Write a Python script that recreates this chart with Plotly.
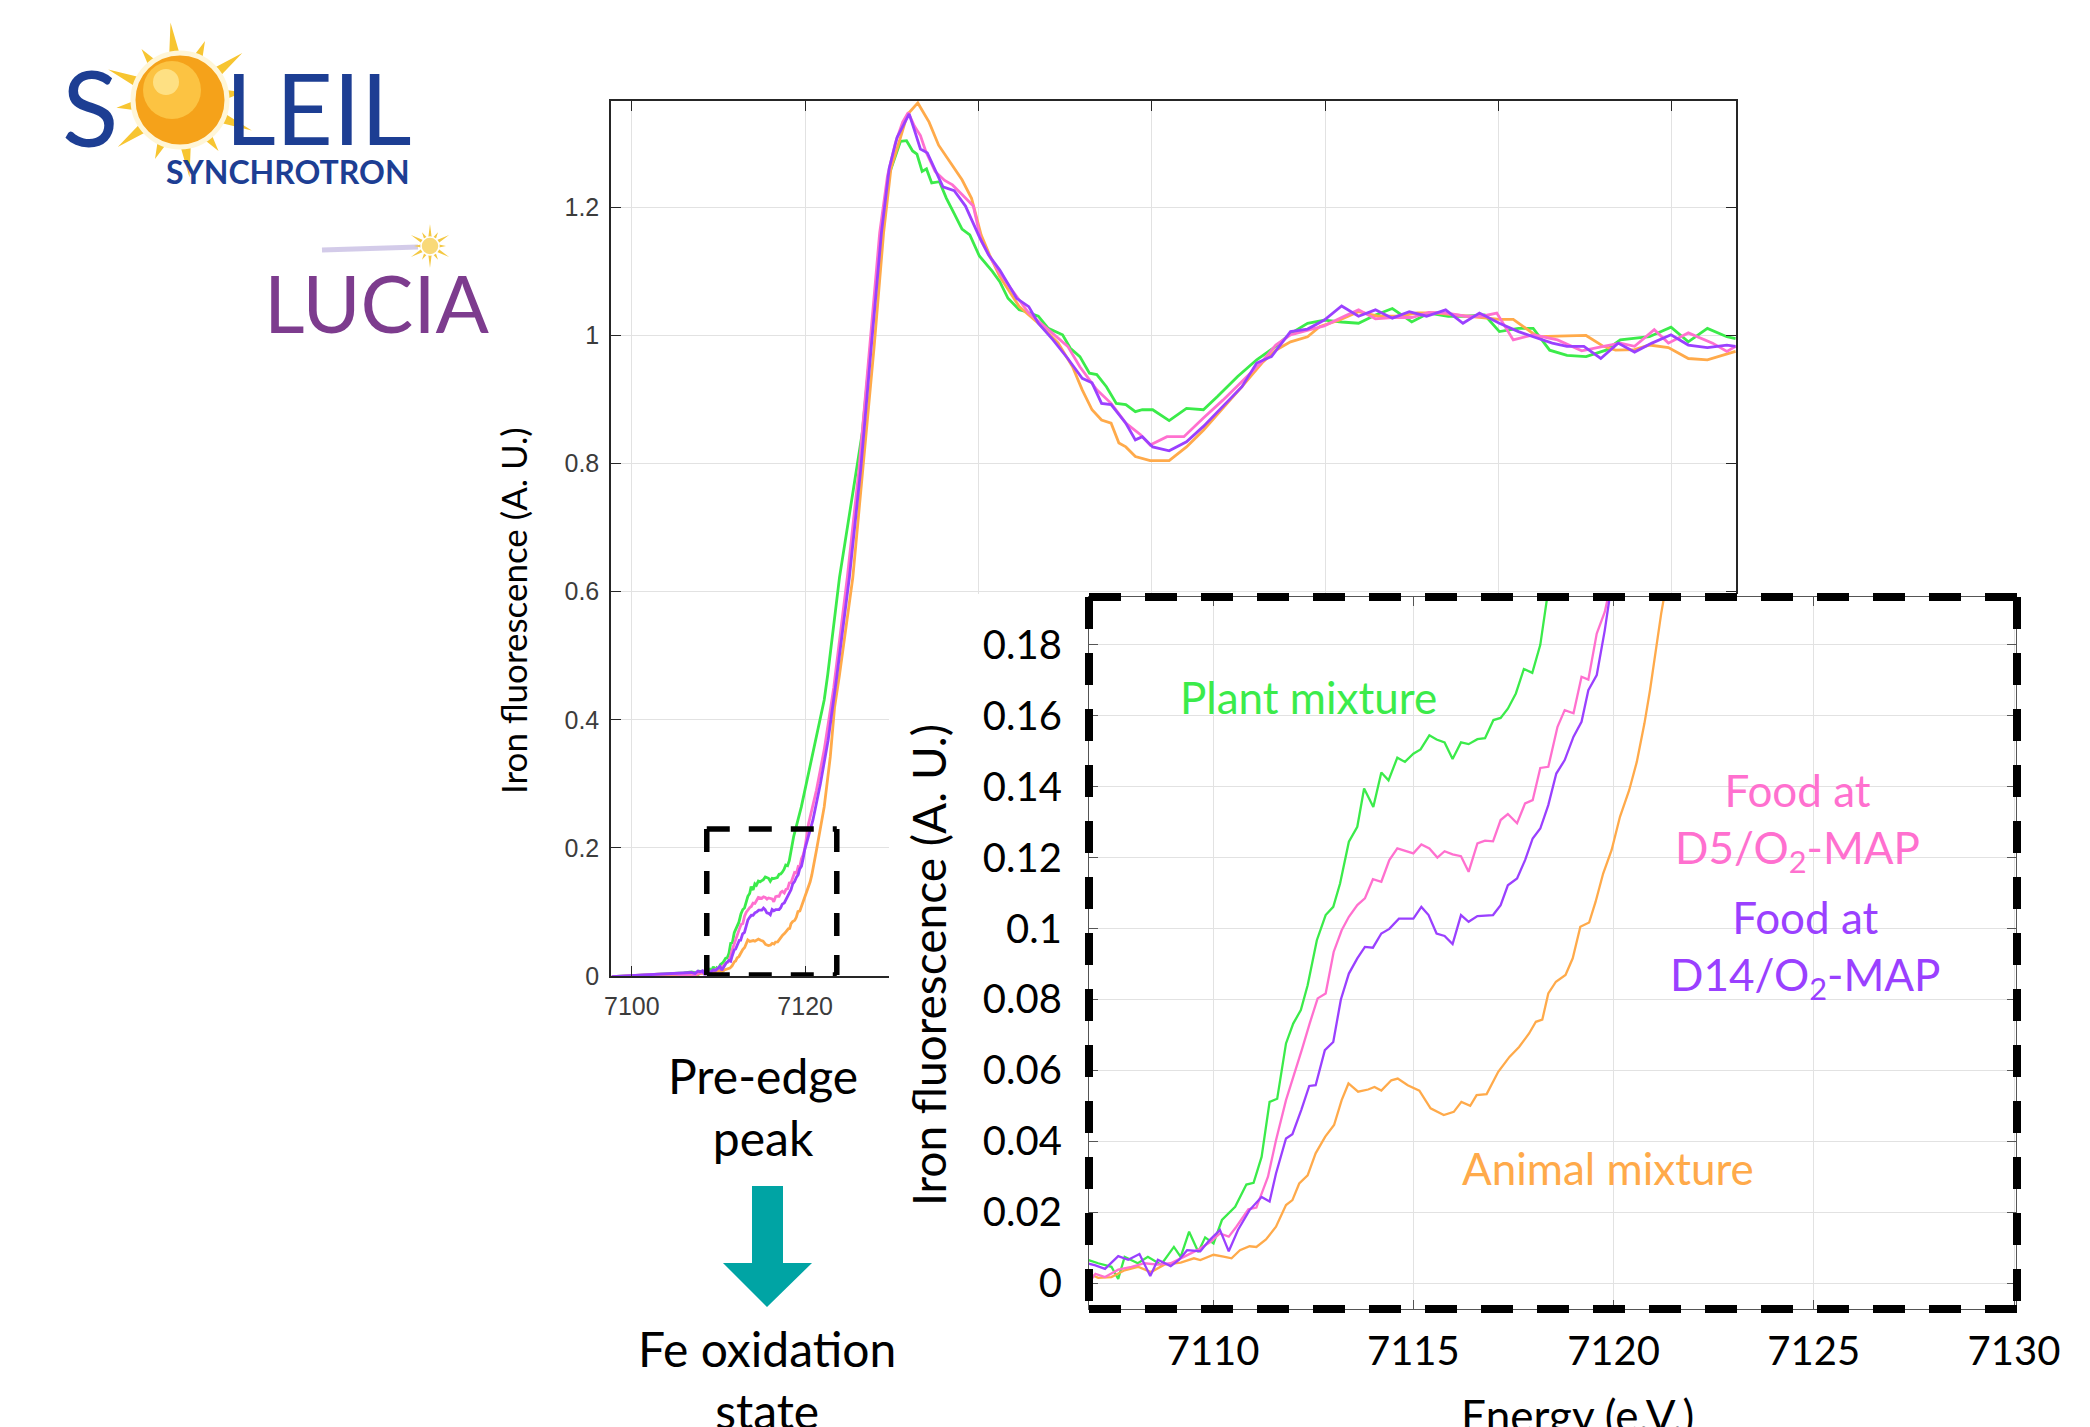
import math
import plotly.graph_objects as go

W, H = 2090, 1427


def px(X):
    return X / W


def py(Y):
    return 1 - Y / H


# ---------------- data ----------------
E_plant = [7097.7, 7099.0, 7101.0, 7103.0, 7105.0, 7106.0, 7106.89, 7107.13, 7107.46, 7107.63,
           7107.79, 7108.12, 7108.37, 7108.7, 7109.02, 7109.19, 7109.4, 7109.63, 7109.8, 7110.01,
           7110.22, 7110.55, 7110.83, 7111.01, 7111.21, 7111.41, 7111.6, 7111.82, 7112.0, 7112.19,
           7112.36, 7112.59, 7112.81, 7113.0, 7113.17, 7113.39, 7113.6, 7113.77, 7114.0, 7114.2,
           7114.38, 7114.6, 7114.79, 7115.0, 7115.18, 7115.4, 7115.58, 7115.78, 7115.98, 7116.19,
           7116.38, 7116.6, 7116.79, 7117.0, 7117.18, 7117.36, 7117.56, 7117.76, 7117.97, 7118.17,
           7118.35, 7118.67, 7119.56, 7120.4, 7121.3, 7122.2, 7122.6, 7123.96, 7125.5, 7126.6,
           7127.73, 7128.8, 7129.62, 7130.37, 7131.0, 7131.7, 7132.4, 7132.9, 7133.5, 7134.0,
           7134.6, 7135.5, 7136.3, 7137.2, 7138.1, 7139.0, 7140.1, 7141.6, 7142.46, 7143.4,
           7144.7, 7145.5, 7146.9, 7148.05, 7149.7, 7150.6, 7151.7, 7152.8, 7153.65, 7154.76,
           7155.9, 7157.0, 7158.1, 7158.9, 7160.1, 7162.0, 7164.0, 7165.95, 7167.6, 7169.9,
           7172.1, 7174.3, 7176.0, 7177.97, 7179.9, 7181.9, 7183.85, 7185.8, 7187.75, 7189.99,
           7191.96, 7194.2, 7196.2, 7198.4, 7200.1, 7202.3, 7204.0, 7205.9, 7207.9, 7210.1,
           7212.4, 7214.05, 7217.4, 7219.9, 7221.9, 7224.1, 7226.35, 7227.35]
I_plant = [-0.001, 0.000, 0.001, 0.002, 0.004, 0.005, 0.0065, 0.0056, 0.0046, 0.0012,
           0.0074, 0.0056, 0.0074, 0.0052, 0.0102, 0.0074, 0.0145, 0.0088, 0.0129, 0.0112,
           0.0178, 0.0215, 0.0278, 0.0283, 0.0356, 0.0511, 0.052, 0.0676, 0.0732, 0.077,
           0.084, 0.0967, 0.1038, 0.1061, 0.1127, 0.1245, 0.1287, 0.1395, 0.1343, 0.144,
           0.1418, 0.1482, 0.147, 0.1493, 0.1505, 0.1545, 0.1533, 0.1525, 0.1478, 0.1525,
           0.152, 0.1534, 0.1537, 0.1588, 0.1594, 0.162, 0.1663, 0.1732, 0.1721, 0.18,
           0.194, 0.2175, 0.264, 0.316, 0.374, 0.431, 0.47, 0.622, 0.754, 0.849,
           1.010, 1.16, 1.249, 1.279, 1.303, 1.304, 1.288, 1.283, 1.256, 1.26,
           1.238, 1.24, 1.214, 1.19, 1.166, 1.157, 1.124, 1.100, 1.084, 1.058,
           1.040, 1.037, 1.030, 1.011, 1.001, 0.980, 0.967, 0.941, 0.939, 0.920,
           0.894, 0.892, 0.881, 0.884, 0.884, 0.867, 0.886, 0.884, 0.905, 0.936,
           0.962, 0.983, 1.003, 1.019, 1.024, 1.021, 1.019, 1.032, 1.042, 1.021,
           1.035, 1.030, 1.030, 1.032, 1.006, 1.011, 1.011, 0.977, 0.969, 0.967,
           0.977, 0.993, 0.998, 1.013, 0.990, 1.011, 0.998, 0.995]

E_d5 = [7097.7, 7099.0, 7101.0, 7103.0, 7105.0, 7106.0, 7106.89, 7107.06, 7107.3, 7107.63,
        7107.96, 7108.29, 7108.61, 7108.94, 7109.27, 7109.6, 7109.93, 7110.17, 7110.39, 7110.58,
        7110.88, 7111.08, 7111.37, 7111.57, 7111.82, 7112.06, 7112.22, 7112.41, 7112.61, 7112.81,
        7113.01, 7113.21, 7113.39, 7113.6, 7113.79, 7113.99, 7114.2, 7114.4, 7114.6, 7115.0,
        7115.2, 7115.4, 7115.6, 7115.78, 7115.98, 7116.19, 7116.38, 7116.6, 7116.79, 7116.99,
        7117.18, 7117.36, 7117.59, 7117.79, 7117.98, 7118.17, 7118.37, 7118.6, 7118.78, 7119.0,
        7119.2, 7119.37, 7119.58, 7119.78, 7119.95, 7120.4, 7121.3, 7122.2, 7122.9, 7123.3,
        7123.75, 7124.86, 7126.2, 7127.5, 7128.6, 7129.5, 7130.4, 7131.25, 7131.9, 7132.6,
        7133.3, 7133.9, 7135.0, 7136.1, 7137.0, 7138.1, 7139.4, 7140.3, 7141.2, 7142.46,
        7144.7, 7145.8, 7148.05, 7150.3, 7151.7, 7153.65, 7155.3, 7157.0, 7158.7, 7159.8,
        7161.75, 7163.7, 7165.95, 7168.2, 7170.4, 7172.7, 7174.3, 7176.0, 7178.25, 7179.9,
        7182.2, 7183.85, 7185.8, 7187.75, 7189.99, 7191.96, 7193.9, 7196.2, 7198.1, 7199.8,
        7201.7, 7204.0, 7206.8, 7209.6, 7212.1, 7214.05, 7215.7, 7217.97, 7219.6, 7221.9,
        7224.7, 7226.35, 7227.35]
I_d5 = [-0.001, 0.000, 0.002, 0.003, 0.003, 0.002, 0.000, 0.0026, 0.0017, 0.0038,
        0.0046, 0.0056, 0.0052, 0.0056, 0.0074, 0.0093, 0.0116, 0.014, 0.0131, 0.0159,
        0.0208, 0.0213, 0.030, 0.0403, 0.0516, 0.0601, 0.066, 0.0732, 0.0803, 0.0817,
        0.0934, 0.0995, 0.1033, 0.1066, 0.1085, 0.1139, 0.1132, 0.1193, 0.1226, 0.1212,
        0.1237, 0.1226, 0.120, 0.1218, 0.1209, 0.1204, 0.116, 0.124, 0.1248, 0.1246,
        0.1306, 0.1323, 0.1297, 0.1353, 0.1362, 0.1453, 0.1456, 0.1569, 0.1616, 0.1607,
        0.171, 0.1702, 0.1832, 0.1893, 0.198, 0.238, 0.29, 0.353, 0.415, 0.45,
        0.50, 0.622, 0.789, 0.993, 1.16, 1.249, 1.300, 1.333, 1.348, 1.327,
        1.312, 1.288, 1.256, 1.242, 1.235, 1.220, 1.202, 1.148, 1.125, 1.097,
        1.055, 1.035, 1.009, 0.983, 0.951, 0.915, 0.894, 0.863, 0.845, 0.829,
        0.842, 0.842, 0.871, 0.899, 0.928, 0.959, 0.985, 1.001, 1.009, 1.015,
        1.030, 1.040, 1.026, 1.028, 1.028, 1.036, 1.035, 1.030, 1.030, 1.035,
        0.993, 1.001, 0.993, 0.976, 0.983, 0.988, 0.983, 1.009, 0.988, 1.004,
        0.988, 0.975, 0.983]

E_d14 = [7097.7, 7099.0, 7101.0, 7103.0, 7105.0, 7106.0, 7106.89, 7107.06, 7107.3, 7107.63,
         7107.88, 7108.16, 7108.43, 7108.62, 7108.94, 7109.15, 7109.35, 7109.68, 7109.9, 7110.17,
         7110.39, 7110.62, 7110.91, 7111.21, 7111.41, 7111.57, 7111.82, 7111.98, 7112.2, 7112.4,
         7112.56, 7112.79, 7113.0, 7113.19, 7113.39, 7113.6, 7113.79, 7113.99, 7114.2, 7114.4,
         7114.64, 7115.0, 7115.2, 7115.38, 7115.58, 7115.78, 7115.98, 7116.19, 7116.38, 7116.6,
         7116.99, 7117.18, 7117.36, 7117.59, 7117.79, 7117.98, 7118.17, 7118.37, 7118.57, 7118.78,
         7119.0, 7119.2, 7119.37, 7119.58, 7119.78, 7119.95, 7120.9, 7121.76, 7122.65, 7123.3,
         7123.6, 7125.1, 7126.4, 7127.7, 7128.8, 7129.7, 7130.6, 7131.4, 7132.0, 7132.6,
         7133.3, 7134.1, 7134.8, 7135.9, 7137.2, 7138.5, 7140.1, 7141.2, 7142.46, 7144.4,
         7145.8, 7146.9, 7148.6, 7150.3, 7151.97, 7153.1, 7154.2, 7155.3, 7157.0, 7158.1,
         7158.9, 7160.1, 7162.0, 7164.0, 7165.95, 7168.2, 7170.4, 7172.1, 7173.8, 7176.0,
         7177.97, 7179.9, 7181.9, 7183.85, 7185.8, 7187.75, 7189.7, 7191.7, 7193.9, 7195.9,
         7197.8, 7200.1, 7202.3, 7204.0, 7206.2, 7207.9, 7209.85, 7211.8, 7213.8, 7215.7,
         7217.7, 7219.9, 7221.9, 7224.1, 7226.35, 7227.35]
I_d14 = [-0.001, 0.000, 0.001, 0.002, 0.004, 0.005, 0.0055, 0.005, 0.004, 0.0076,
         0.0066, 0.0082, 0.002, 0.0066, 0.0048, 0.0066, 0.0093, 0.009, 0.012, 0.015,
         0.009, 0.015, 0.0206, 0.0243, 0.023, 0.0309, 0.0408, 0.042, 0.0488, 0.0556,
         0.0558, 0.0657, 0.068, 0.080, 0.0873, 0.0916, 0.0948, 0.0946, 0.0986, 0.0999,
         0.1028, 0.1028, 0.1061, 0.1038, 0.0986, 0.0979, 0.0956, 0.1038, 0.1019, 0.1035,
         0.1038, 0.1066, 0.1122, 0.1141, 0.1193, 0.1254, 0.1282, 0.1348, 0.1437, 0.1475,
         0.1541, 0.1583, 0.1672, 0.1715, 0.1841, 0.197, 0.2436, 0.30, 0.368, 0.431,
         0.462, 0.622, 0.789, 0.993, 1.16, 1.261, 1.309, 1.330, 1.346, 1.321,
         1.291, 1.285, 1.264, 1.232, 1.226, 1.202, 1.154, 1.125, 1.102, 1.058,
         1.045, 1.019, 0.993, 0.964, 0.933, 0.926, 0.894, 0.892, 0.863, 0.837,
         0.842, 0.826, 0.820, 0.834, 0.858, 0.889, 0.920, 0.957, 0.967, 1.006,
         1.010, 1.024, 1.046, 1.030, 1.040, 1.027, 1.037, 1.030, 1.040, 1.019,
         1.035, 1.019, 1.006, 0.998, 0.988, 0.983, 0.983, 0.964, 0.988, 0.974,
         0.988, 1.001, 0.985, 0.981, 0.985, 0.983]

E_animal = [7097.7, 7099.0, 7101.0, 7103.0, 7105.0, 7106.0, 7106.89, 7107.13, 7107.46, 7107.79,
            7108.12, 7108.45, 7108.78, 7109.19, 7109.52, 7109.68, 7110.01, 7110.26, 7110.46, 7110.67,
            7110.91, 7111.08, 7111.32, 7111.57, 7111.82, 7111.98, 7112.15, 7112.36, 7112.56, 7112.8,
            7113.02, 7113.21, 7113.38, 7113.62, 7113.87, 7114.03, 7114.2, 7114.45, 7114.61, 7114.86,
            7115.15, 7115.43, 7115.76, 7116.01, 7116.2, 7116.42, 7116.58, 7116.83, 7117.12, 7117.4,
            7117.64, 7117.89, 7118.06, 7118.22, 7118.37, 7118.56, 7118.8, 7118.98, 7119.17, 7119.39,
            7119.55, 7119.74, 7119.95, 7120.16, 7120.39, 7120.58, 7120.77, 7120.91, 7121.05, 7121.19,
            7121.3, 7122.2, 7122.9, 7123.4, 7123.96, 7125.5, 7126.6, 7127.95, 7129.05, 7129.9,
            7131.0, 7131.8, 7133.0, 7134.3, 7135.4, 7136.8, 7138.1, 7139.2, 7140.3, 7141.3,
            7142.46, 7144.7, 7146.9, 7149.2, 7150.85, 7151.97, 7153.1, 7154.2, 7155.3, 7156.2,
            7157.0, 7158.1, 7159.8, 7162.0, 7164.0, 7165.95, 7168.2, 7170.4, 7172.7, 7174.3,
            7176.0, 7177.97, 7179.4, 7181.6, 7183.85, 7186.1, 7188.3, 7190.6, 7192.8, 7195.0,
            7197.3, 7200.1, 7201.7, 7202.9, 7204.5, 7206.8, 7210.1, 7212.1, 7213.5, 7215.7,
            7217.4, 7219.6, 7221.9, 7224.1, 7227.35]
I_animal = [-0.001, -0.001, 0.000, 0.001, 0.002, 0.002, 0.0027, 0.0015, 0.0017, 0.0036,
            0.0046, 0.0031, 0.0052, 0.0058, 0.007, 0.0065, 0.008, 0.0075, 0.007, 0.0093,
            0.0104, 0.0102, 0.0123, 0.0159, 0.022, 0.0234, 0.0281, 0.0304, 0.0366, 0.0413,
            0.0446, 0.0516, 0.0563, 0.054, 0.0546, 0.0553, 0.0543, 0.0572, 0.0577, 0.0558,
            0.0543, 0.0493, 0.0474, 0.0483, 0.0511, 0.050, 0.053, 0.0533, 0.0596, 0.0638,
            0.0666, 0.0704, 0.0737, 0.0743, 0.0817, 0.085, 0.0869, 0.0916, 0.1005, 0.1017,
            0.1075, 0.1155, 0.1221, 0.1315, 0.139, 0.147, 0.1578, 0.1672, 0.1785, 0.1889,
            0.196, 0.264, 0.342, 0.42, 0.47, 0.622, 0.783, 0.981, 1.16, 1.261,
            1.309, 1.345, 1.363, 1.333, 1.297, 1.270, 1.243, 1.214, 1.157, 1.125,
            1.092, 1.045, 1.019, 0.988, 0.951, 0.915, 0.884, 0.868, 0.863, 0.832,
            0.826, 0.811, 0.8045, 0.8045, 0.826, 0.852, 0.886, 0.920, 0.957, 0.977,
            0.990, 0.998, 1.014, 1.024, 1.037, 1.030, 1.030, 1.035, 1.035, 1.032,
            1.028, 1.025, 1.025, 1.014, 0.998, 0.999, 1.000, 0.983, 0.977, 0.978,
            0.985, 0.981, 0.964, 0.962, 0.975]

SERIES_NAMES = ["Plant mixture", "Animal mixture", "Food at D5/O2-MAP", "Food at D14/O2-MAP"]
SERIES_COLORS = ["#3BEB4A", "#FFAA4A", "#FF70CF", "#9A40FF"]

MAIN_XTICKS = [7100, 7120, 7140, 7160, 7180, 7200, 7220]
MAIN_YTICKS = [0, 0.2, 0.4, 0.6, 0.8, 1.0, 1.2]
MAIN_YTICKTEXT = ["0", "0.2", "0.4", "0.6", "0.8", "1", "1.2"]
INSET_XTICKS = [7110, 7115, 7120, 7125, 7130]
INSET_YTICKS = [0, 0.02, 0.04, 0.06, 0.08, 0.10, 0.12, 0.14, 0.16, 0.18]
INSET_YTICKTEXT = ["0", "0.02", "0.04", "0.06", "0.08", "0.1", "0.12", "0.14", "0.16", "0.18"]

series = [(E_plant, I_plant), (E_animal, I_animal), (E_d5, I_d5), (E_d14, I_d14)]

# ---------------- figure ----------------
fig = go.Figure()

# main chart traces
for (E, I), name, col in zip(series, SERIES_NAMES, SERIES_COLORS):
    fig.add_trace(go.Scatter(x=E, y=I, mode="lines", name=name, xaxis="x", yaxis="y",
                             line=dict(color=col, width=2.8), showlegend=False, hoverinfo="skip"))

# white cover under the inset (its own invisible subplot, drawn after the main one)
fig.add_trace(go.Scatter(x=[0, 1, 1, 0, 0], y=[0, 0, 1, 1, 0], xaxis="x2", yaxis="y2",
                         mode="lines", fill="toself", fillcolor="white",
                         line=dict(width=0, color="white"), showlegend=False, hoverinfo="skip"))

# inset traces
for (E, I), name, col in zip(series, SERIES_NAMES, SERIES_COLORS):
    fig.add_trace(go.Scatter(x=E, y=I, mode="lines", name=name, xaxis="x3", yaxis="y3",
                             line=dict(color=col, width=2.3), showlegend=False, hoverinfo="skip"))

AXC = "#262626"
GRID = "#e2e2e2"
main_font = dict(family="Liberation Sans, Arial", size=25, color="#3c3c3c")
inset_font = dict(family="Lato", size=40, color="black")

layout_axes = dict(
    xaxis=dict(domain=[px(611), px(1736)], range=[7097.6, 7227.4], anchor="y",
               tickvals=MAIN_XTICKS, ticks="inside", ticklen=10, tickwidth=1.3, tickcolor=AXC,
               showline=True, linecolor=AXC, linewidth=1.5, mirror="ticks",
               showgrid=True, gridcolor=GRID, gridwidth=1.3, zeroline=False,
               tickfont=main_font, ticklabelstandoff=7, automargin=False),
    yaxis=dict(domain=[py(976), py(101)], range=[0, 1.366], anchor="x",
               tickvals=MAIN_YTICKS, ticktext=MAIN_YTICKTEXT, ticks="inside", ticklen=10,
               tickwidth=1.3, tickcolor=AXC, showline=True, linecolor=AXC, linewidth=1.5,
               mirror="ticks", showgrid=True, gridcolor=GRID, gridwidth=1.3, zeroline=False,
               tickfont=main_font, ticklabelstandoff=5, automargin=False),
    xaxis2=dict(domain=[px(889), 1.0], range=[0, 1], anchor="y2", visible=False,
                showgrid=False, zeroline=False, fixedrange=True),
    yaxis2=dict(domain=[0.0, py(594)], range=[0, 1], anchor="x2", visible=False,
                showgrid=False, zeroline=False, fixedrange=True),
    xaxis3=dict(domain=[px(1089), px(2016)], range=[7106.9, 7130.05], anchor="y3",
                tickvals=INSET_XTICKS, ticks="inside", ticklen=9, tickwidth=1.3, tickcolor="#555555",
                showline=True, linecolor="#555555", linewidth=1.3, mirror="ticks",
                showgrid=True, gridcolor=GRID, gridwidth=1.3, zeroline=False,
                tickfont=inset_font, ticklabelstandoff=7, automargin=False),
    yaxis3=dict(domain=[py(1309), py(597)], range=[-0.0073, 0.1935], anchor="x3",
                tickvals=INSET_YTICKS, ticktext=INSET_YTICKTEXT, ticks="inside", ticklen=9,
                tickwidth=1.3, tickcolor="#555555", showline=True, linecolor="#555555",
                linewidth=1.3, mirror="ticks", showgrid=True, gridcolor=GRID, gridwidth=1.3,
                zeroline=False, tickfont=inset_font, ticklabelstandoff=18, automargin=False),
)

# ---------------- decorations ----------------
shapes = []


def sun_rays(cx, cy, r_in, r_long, r_short, n, half_deg, rot_deg, color):
    d = ""
    for k in range(n):
        ang = math.radians(rot_deg + 360.0 * k / n)
        r_tip = r_long if k % 2 == 0 else r_short
        a1 = ang - math.radians(half_deg)
        a2 = ang + math.radians(half_deg)
        p1 = (cx + r_in * math.cos(a1), cy + r_in * math.sin(a1))
        tp = (cx + r_tip * math.cos(ang), cy + r_tip * math.sin(ang))
        p2 = (cx + r_in * math.cos(a2), cy + r_in * math.sin(a2))
        d += "M{:.5f},{:.5f} L{:.5f},{:.5f} L{:.5f},{:.5f} Z ".format(
            px(p1[0]), py(p1[1]), px(tp[0]), py(tp[1]), px(p2[0]), py(p2[1]))
    return dict(type="path", xref="paper", yref="paper", path=d, fillcolor=color,
                line=dict(width=0), layer="above")


def circle(cx, cy, r, fill, lw=0, lc="white"):
    return dict(type="circle", xref="paper", yref="paper", x0=px(cx - r), x1=px(cx + r),
                y0=py(cy + r), y1=py(cy - r), fillcolor=fill,
                line=dict(width=lw, color=lc), layer="above")


# SOLEIL sun
shapes.append(sun_rays(180, 100, 40, 78, 64, 12, 9, -97, "#F7C531"))
shapes.append(circle(180, 100, 47, "#F5A21A", 5, "#FFF6D8"))
shapes.append(circle(172, 90, 29, "rgba(253,206,80,0.75)"))
shapes.append(circle(166, 82, 13, "rgba(255,236,160,0.7)"))

# LUCIA streak and small sun
shapes.append(dict(type="line", xref="paper", yref="paper", x0=px(322), y0=py(250), x1=px(418), y1=py(247),
                   line=dict(color="rgba(175,160,215,0.55)", width=5), layer="above"))
shapes.append(sun_rays(430, 246, 8, 22, 16, 12, 13, -90, "#F4C842"))
shapes.append(circle(430, 246, 9, "#F9D978", 1.5, "#FFFFFF"))

# teal arrow
arrow_pts = [(752, 1186), (783, 1186), (783, 1263), (812, 1263), (767, 1307), (723, 1263), (752, 1263)]
arrow_path = "M" + " L".join("{:.5f},{:.5f}".format(px(a), py(b)) for a, b in arrow_pts) + " Z"
shapes.append(dict(type="path", xref="paper", yref="paper", path=arrow_path,
                   fillcolor="#00A4A4", line=dict(width=0), layer="above"))

# small dashed zoom rectangle on the main chart
zx0, zx1, zy0, zy1 = 7108.65, 7123.65, 0.0016, 0.2295
small_dash = dict(color="black", width=5.5, dash="23px,19px")
for (a, b, c, d) in [(zx0, zy1, zx1, zy1), (zx0, zy1, zx0, zy0), (zx0, zy0, zx1, zy0), (zx1, zy1, zx1, zy0)]:
    shapes.append(dict(type="line", xref="x", yref="y", x0=a, y0=b, x1=c, y1=d,
                       line=small_dash, layer="above"))

# big dashed border around the inset
big_dash = dict(color="black", width=8, dash="32px,24px")
bx0, bx1, by0, by1 = px(1089), px(2017), py(1309), py(597)
for (a, b, c, d) in [(bx0, by1, bx1, by1), (bx0, by1, bx0, by0), (bx0, by0, bx1, by0), (bx1, by1, bx1, by0)]:
    shapes.append(dict(type="line", xref="paper", yref="paper", x0=a, y0=b, x1=c, y1=d,
                       line=big_dash, layer="above"))

# ---------------- texts ----------------
ann = []


def text(X, Y, s, size, color="black", family="Lato", angle=0, xanchor="center", bold=False):
    if bold:
        s = "<b>" + s + "</b>"
    ann.append(dict(x=px(X), y=py(Y), xref="paper", yref="paper", text=s, showarrow=False,
                    xanchor=xanchor, yanchor="middle", textangle=angle,
                    font=dict(family=family, size=size, color=color)))


# logos
text(90, 107, "S", 104, "#1D3E93")
text(318, 107, "LEIL", 99, "#1D3E93")
text(288, 172, "SYNCHROTRON", 32, "#1D3E93", bold=True)
text(377, 303, "LUCIA", 79, "#7D3C8E")

# axis titles
text(513, 611, "Iron fluorescence (A. U.)", 35, "black", angle=-90)
text(929, 965, "Iron fluorescence (A. U.)", 46, "black", angle=-90)
text(1577, 1415, "Energy (e.V.)", 44, "black")

# series labels in the inset
text(1308, 697, "Plant mixture", 44, "#3BEB4A")
text(1797, 822, "Food at<br>D5/O<sub>2</sub>-MAP", 44, "#FF70CF")
text(1805, 949, "Food at<br>D14/O<sub>2</sub>-MAP", 44, "#9A40FF")
text(1608, 1168, "Animal mixture", 44, "#FFAA4A")

# side notes
text(763, 1106, "Pre-edge<br>peak", 48, "black")
text(767, 1379, "Fe oxidation<br>state", 48, "black")

fig.update_layout(
    width=W, height=H, autosize=False,
    margin=dict(l=0, r=0, t=0, b=0, pad=0),
    paper_bgcolor="white", plot_bgcolor="white",
    showlegend=False, hovermode=False,
    shapes=shapes, annotations=ann,
    **layout_axes,
)

fig.write_html("out.html", config={"displayModeBar": False},
               post_script="document.body.style.margin='0px';document.body.style.padding='0px';")
